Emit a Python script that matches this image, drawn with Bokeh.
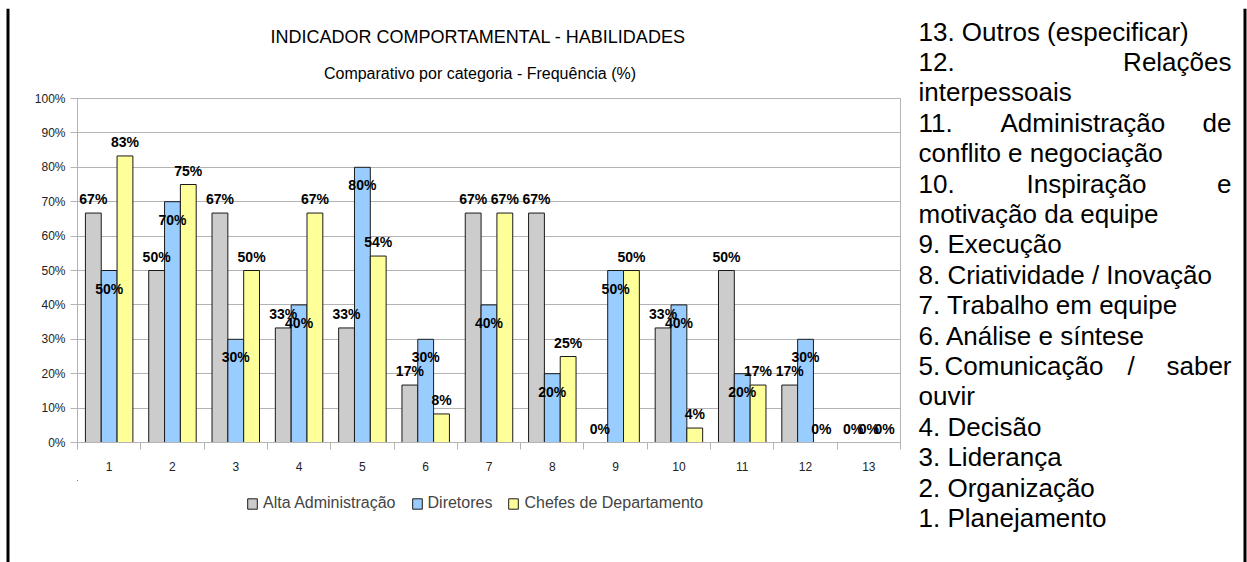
from bokeh.plotting import figure
from bokeh.layouts import row, column
from bokeh.models import (Range1d, FixedTicker, LabelSet, Legend, LegendItem,
                          ColumnDataSource, PrintfTickFormatter)
from bokeh.core.properties import value
from bokeh.embed import file_html
from bokeh.resources import INLINE

# ---------------- data ----------------
categories = [str(i) for i in range(1, 14)]
series_names = ["Alta Administração", "Diretores", "Chefes de Departamento"]
alta_administracao = [66.7, 50.0, 66.7, 33.3, 33.3, 16.7, 66.7, 66.7, 0.0, 33.3, 50.0, 16.7, 0.0]
diretores = [50.0, 70.0, 30.0, 40.0, 80.0, 30.0, 40.0, 20.0, 50.0, 40.0, 20.0, 30.0, 0.0]
chefes_departamento = [83.3, 75.0, 50.0, 66.7, 54.2, 8.3, 66.7, 25.0, 50.0, 4.2, 16.7, 0.0, 0.0]
y_ticks = [0, 10, 20, 30, 40, 50, 60, 70, 80, 90, 100]
title_text = "INDICADOR COMPORTAMENTAL - HABILIDADES"
subtitle_text = "Comparativo por categoria - Frequência (%)"
right_lines = [
    ["13. Outros (especificar)"],
    ["12.", "Relações"],
    ["interpessoais"],
    ["11.", "Administração", "de"],
    ["conflito e negociação"],
    ["10.", "Inspiração", "e"],
    ["motivação da equipe"],
    ["9. Execução"],
    ["8. Criatividade / Inovação"],
    ["7. Trabalho em equipe"],
    ["6. Análise e síntese"],
    ["5.", "Comunicação", "/", "saber"],
    ["ouvir"],
    ["4. Decisão"],
    ["3. Liderança"],
    ["2. Organização"],
    ["1. Planejamento"],
]

# ---------------- layout / style ----------------
W, H = 1247, 562
TOP_H = 8            # strip holding the top rule
LEFT_W = 10          # strip holding the left rule
CHART_W = 905 - LEFT_W
TITLE_H = 80
LEGEND_TOP = 480
RIGHT_W = W - LEFT_W - CHART_W
BODY_H = H - TOP_H
FL, FR, FT, FB = 77, 900, 98, 442   # plot area in page pixels
SANS = "Liberation Sans"
colors = ["#cccccc", "#99ccff", "#ffff99"]
offsets = [-0.25, 0.0, 0.25]
GRID = "#b3b3b3"
TICK_COLOR = "#222222"
BAR_LINE = "#1a1a1a"
BL, BR = FL - LEFT_W, LEFT_W + CHART_W - FR   # chart side borders


def pixel_fig(w, h, y_top, left=0, right=0, x0=0):
    """Figure whose data coordinates are page pixels (y grows downward)."""
    f = figure(width=w, height=h, x_range=Range1d(x0 + left, x0 + w - right),
               y_range=Range1d(y_top + h, y_top),
               output_backend="svg", toolbar_location=None,
               x_axis_type=None, y_axis_type=None, min_border=0,
               min_border_left=left, min_border_right=right)
    f.grid.visible = False
    f.outline_line_color = None
    f.background_fill_color = "white"
    f.border_fill_color = "white"
    return f


# rules
top_strip = pixel_fig(W, TOP_H, 0)
top_strip.segment(x0=[6], y0=[5.5], x1=[1246], y1=[5.5], line_color="black", line_width=3)
left_strip = pixel_fig(LEFT_W, BODY_H, TOP_H)
left_strip.segment(x0=[7.5], y0=[TOP_H], x1=[7.5], y1=[H], line_color="black", line_width=3)

# title block (frame aligned with the chart frame)
title_fig = pixel_fig(CHART_W, TITLE_H, TOP_H, left=BL, right=BR, x0=LEFT_W)
title_fig.text(x=[270], y=[36.5], text=[title_text],
               text_font=value(SANS), text_font_size=value("18px"),
               text_align="left", text_baseline="alphabetic", text_color="black")
title_fig.text(x=[479.5], y=[72.7], text=[subtitle_text],
               text_font=value(SANS), text_font_size=value("16px"),
               text_align="center", text_baseline="alphabetic", text_color="black")

# chart
CH_TOP = TOP_H + TITLE_H
CH_H = LEGEND_TOP - CH_TOP
x_lo, x_hi = 0.5, len(categories) + 0.5
p = figure(width=CHART_W, height=CH_H, x_range=Range1d(x_lo, x_hi), y_range=Range1d(0, 100),
           output_backend="svg", toolbar_location=None,
           min_border_left=BL, min_border_right=BR,
           min_border_top=FT - CH_TOP, min_border_bottom=LEGEND_TOP - FB)
p.background_fill_color = "white"
p.border_fill_color = "white"
p.outline_line_color = GRID

xs = list(range(1, len(categories) + 1))
p.xaxis.ticker = FixedTicker(ticks=xs, minor_ticks=[x - 0.5 for x in xs] + [xs[-1] + 0.5])
p.xaxis.major_label_overrides = {i: c for i, c in zip(xs, categories)}
p.xaxis.major_tick_out = 0
p.xaxis.major_tick_in = 0
p.xaxis.minor_tick_out = 7
p.xaxis.minor_tick_in = 0
p.xaxis.minor_tick_line_color = GRID
p.xaxis.axis_line_color = GRID
p.xaxis.major_label_standoff = 12
p.yaxis.ticker = FixedTicker(ticks=y_ticks)
p.yaxis.formatter = PrintfTickFormatter(format="%d%%")
p.yaxis.major_tick_out = 7
p.yaxis.major_tick_in = 0
p.yaxis.minor_tick_line_color = None
p.yaxis.major_tick_line_color = GRID
p.yaxis.axis_line_color = GRID
p.yaxis.major_label_standoff = 5
for ax in (p.xaxis, p.yaxis):
    ax.major_label_text_font = SANS
    ax.major_label_text_font_size = "12px"
    ax.major_label_text_color = TICK_COLOR
p.xgrid.visible = False
p.ygrid.grid_line_color = GRID

for k, (name, vals) in enumerate(zip(series_names, [alta_administracao, diretores, chefes_departamento])):
    if k == 1:
        yoff = [-23 if v > 0 else 9 for v in vals]
    else:
        yoff = [9 for v in vals]
    src = ColumnDataSource(dict(
        x=[x + offsets[k] for x in xs], top=vals,
        lbl=["%d%%" % round(v) for v in vals], yoff=yoff))
    p.vbar(x="x", top="top", width=0.25, source=src, fill_color=colors[k],
           line_color=BAR_LINE, line_width=1)
    p.add_layout(LabelSet(x="x", y="top", text="lbl", y_offset="yoff", source=src,
                          text_align="center", text_baseline="alphabetic",
                          text_font=value(SANS), text_font_style="bold",
                          text_font_size=value("14px"), text_color="#000000"))

# legend strip (frame aligned with the chart frame; swatches share the bar styles)
LEG_H = H - LEGEND_TOP
legend_fig = pixel_fig(CHART_W, LEG_H, LEGEND_TOP, left=BL, right=BR, x0=LEFT_W)
items = []
for k, name in enumerate(series_names):
    r = legend_fig.vbar(x=[-1000], top=[-1000], bottom=[-1001], width=1,
                        fill_color=colors[k], line_color=BAR_LINE, line_width=1)
    items.append(LegendItem(label=name, renderers=[r]))
legend = Legend(items=items, orientation="horizontal",
                location=(246 - FL, H - 514),
                glyph_width=12, glyph_height=13, label_standoff=5, spacing=15,
                padding=0, margin=0, label_height=22,
                label_text_font=SANS, label_text_font_size="16px",
                border_line_alpha=0, background_fill_alpha=0)
legend_fig.add_layout(legend, "center")

# right text block
X0 = LEFT_W + CHART_W
right_fig = pixel_fig(RIGHT_W, BODY_H, TOP_H, x0=X0)
right_fig.segment(x0=[1244.5], y0=[TOP_H], x1=[1244.5], y1=[H],
                  line_color="black", line_width=3)
LEFT, RIGHT = 918, 1231
middle_left = {"Administração": 1000, "Inspiração": 1026, "Comunicação": 944, "/": 1127}
lx, ly, lt, rx, ry, rt = [], [], [], [], [], []
for i, words in enumerate(right_lines):
    base = 31 + 30.4 * i
    lx.append(LEFT); ly.append(base); lt.append(words[0])
    for w in words[1:-1]:
        lx.append(middle_left[w]); ly.append(base); lt.append(w)
    if len(words) > 1:
        rx.append(RIGHT); ry.append(base); rt.append(words[-1])
right_fig.text(x=lx, y=ly, text=lt, text_font=value(SANS), text_font_size=value("26px"),
               text_align="left", text_baseline="alphabetic", text_color="black")
right_fig.text(x=rx, y=ry, text=rt, text_font=value(SANS), text_font_size=value("26px"),
               text_align="right", text_baseline="alphabetic", text_color="black")

layout = column(top_strip, row(left_strip, column(title_fig, p, legend_fig), right_fig))
open("out.html", "w").write(file_html(layout, INLINE))
